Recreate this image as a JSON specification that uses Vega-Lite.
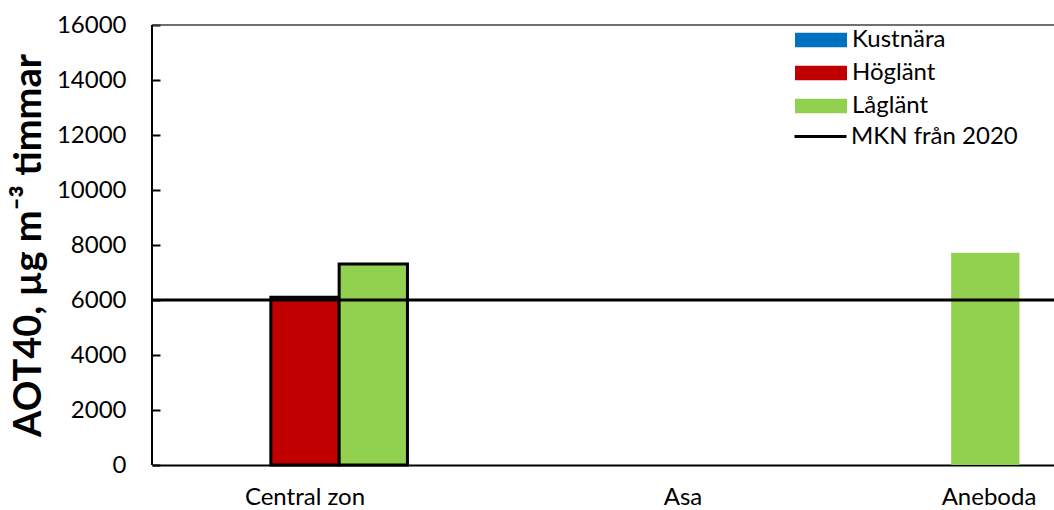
{
  "$schema": "https://vega.github.io/schema/vega-lite/v6.json",
  "width": 902,
  "height": 440,
  "autosize": {"type": "none"},
  "padding": {"left": 152, "top": 25, "right": 0, "bottom": 45},
  "background": "white",
  "config": {"view": {"stroke": null}, "font": "Lato", "axis": {"grid": false}},
  "layer": [
    {
      "data": {"values": [
        {"site": "Central zon", "series": "Höglänt", "aot40": 6100},
        {"site": "Central zon", "series": "Låglänt", "aot40": 7310},
        {"site": "Aneboda", "series": "Låglänt", "aot40": 7720}
      ]},
      "mark": {"type": "bar", "strokeWidth": 3, "strokeJoin": "miter"},
      "encoding": {
        "x": {
          "field": "site", "type": "nominal", "sort": null,
          "scale": {"domain": ["Central zon", "Asa", "Aneboda"], "range": [0, 918], "paddingInner": 0, "paddingOuter": 0},
          "axis": {
            "title": null, "labelAngle": 0, "ticks": false, "domainColor": "black", "domainWidth": 2,
            "labelFont": "Lato", "labelFontSize": 24, "labelColor": "black", "labelPadding": 20,
            "labelOffset": {"condition": {"test": "datum.value === 'Central zon'", "value": 0}, "value": 72}
          }
        },
        "xOffset": {
          "field": "series", "type": "nominal",
          "scale": {"domain": ["Kustnära", "Höglänt", "Låglänt"], "paddingInner": 0, "paddingOuter": 0.74}
        },
        "y": {
          "field": "aot40", "type": "quantitative",
          "scale": {"domain": [0, 16000], "nice": false},
          "axis": {
            "title": "AOT40, µg m⁻³ timmar", "titleFont": "Lato", "titleFontWeight": "bold", "titleFontSize": 38,
            "titleColor": "black", "titlePadding": 8,
            "values": [0, 2000, 4000, 6000, 8000, 10000, 12000, 14000, 16000], "format": "d",
            "offset": -8, "domain": false,
            "tickSize": 8, "tickColor": "black", "tickWidth": 2,
            "labelFont": "Lato", "labelFontSize": 24, "labelColor": "black", "labelPadding": 26
          }
        },
        "color": {
          "field": "series", "type": "nominal",
          "scale": {"domain": ["Kustnära", "Höglänt", "Låglänt"], "range": ["#0070C0", "#C00000", "#92D050"]},
          "legend": {
            "title": null, "orient": "none", "legendX": 656, "legendY": 2, "padding": 0,
            "symbolType": "M-2,-0.55H2V0.55H-2Z", "symbolSize": 676, "symbolStrokeWidth": 0,
            "labelFont": "Lato", "labelFontSize": 24, "labelColor": "black", "labelOffset": 18, "rowPadding": 8,
            "labelLimit": 300
          }
        },
        "stroke": {"condition": {"test": "datum.site === 'Central zon'", "value": "black"}, "value": "transparent"}
      }
    },
    {
      "data": {"values": [{"mkn": 6000, "lbl": "MKN från 2020"}]},
      "mark": {"type": "rule", "color": "black", "strokeWidth": 3},
      "encoding": {
        "y": {"field": "mkn", "type": "quantitative", "scale": {"domain": [0, 16000], "nice": false}},
        "strokeDash": {
          "field": "lbl", "type": "nominal", "scale": {"range": [[1, 0]]},
          "legend": {
            "title": null, "orient": "none", "legendX": 654, "legendY": 97, "padding": 0,
            "symbolType": "M-2,0H2", "symbolSize": 676, "symbolStrokeColor": "black", "symbolStrokeWidth": 3,
            "labelFont": "Lato", "labelFontSize": 24, "labelColor": "black", "labelOffset": 16, "labelLimit": 300
          }
        }
      }
    },
    {
      "data": {"values": [{}]},
      "mark": {"type": "rule", "color": "#404040", "strokeWidth": 1.5},
      "encoding": {"y": {"datum": 16000}}
    },
    {
      "data": {"values": [{}]},
      "mark": {"type": "rule", "color": "black", "strokeWidth": 2},
      "encoding": {"x": {"datum": "Central zon", "bandPosition": 0}}
    }
  ]
}
